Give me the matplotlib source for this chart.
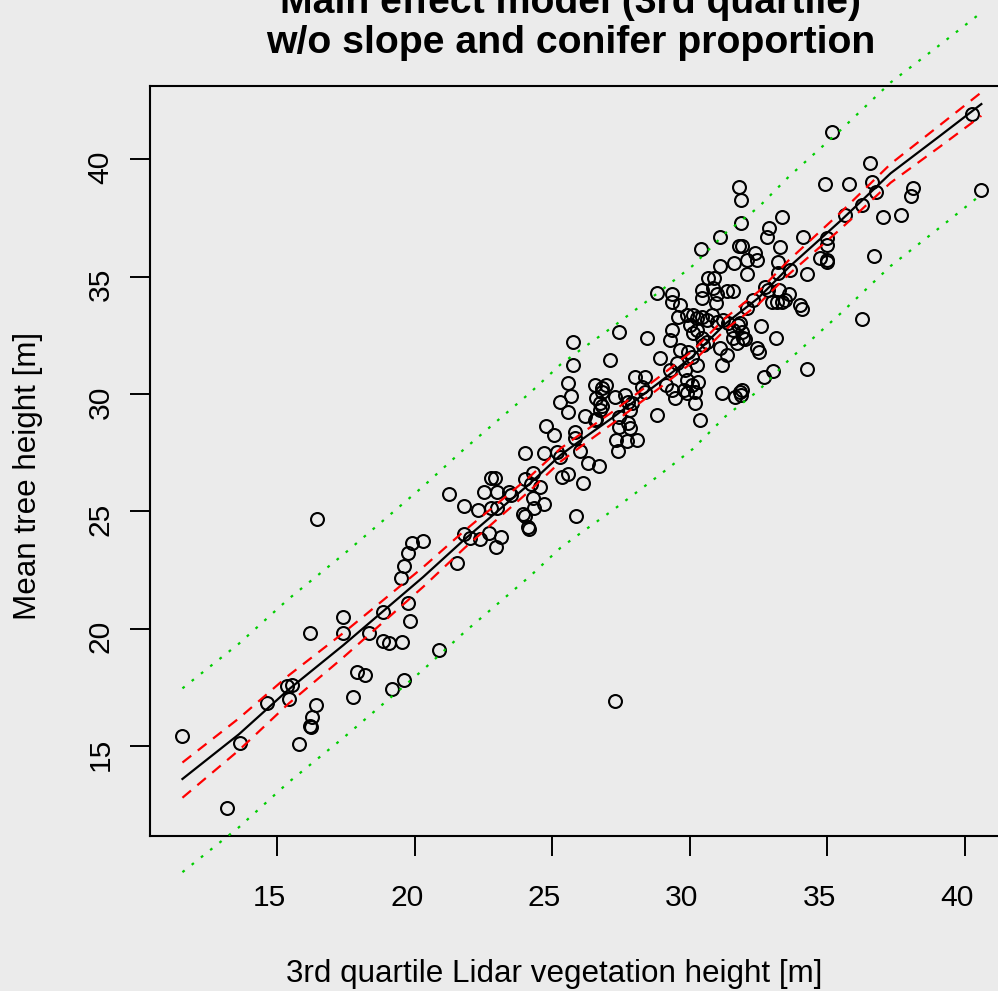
import numpy as np
import matplotlib
matplotlib.use("Agg")
import matplotlib.pyplot as plt
import matplotlib.transforms as mtransforms

plt.rcParams['font.family'] = ['Liberation Sans', 'DejaVu Sans']
plt.rcParams['lines.scale_dashes'] = False

# observed plots: lidar 3rd quartile height vs mean tree height
lidar_q3 = [
    11.55, 13.18, 13.64, 14.61, 15.36, 15.55, 15.44, 16.40, 16.25, 16.19, 16.23, 15.80,
    16.18, 17.38, 17.38, 18.34, 18.85, 19.76, 19.84, 18.85, 19.07, 19.55, 17.89, 18.19,
    17.74, 19.16, 19.61, 20.88, 16.44, 27.28,
    19.49, 19.62, 19.76, 19.91, 20.29, 21.55, 21.77, 22.00, 22.37, 22.70, 23.12, 22.95,
    21.26, 21.79, 22.29, 22.53, 22.77, 22.92, 22.98, 22.77, 22.98, 23.44, 23.50, 24.01,
    24.68, 24.78, 25.07, 25.16, 25.28, 24.01, 24.31, 24.22, 24.55, 24.71, 24.31, 24.34,
    23.92, 24.01, 24.13, 24.16, 25.34, 25.58, 26.10, 25.87, 25.58, 25.67, 25.28, 25.58,
    25.83, 25.83, 26.01, 26.31, 26.71, 26.19, 26.59, 26.55, 26.80, 26.95, 26.59, 26.74,
    26.80, 27.28, 27.64, 27.76, 27.44, 27.76, 27.31, 27.71, 27.38,
    25.74, 27.44, 28.43, 28.80, 29.34, 29.34, 29.65, 29.58, 30.41, 31.10, 31.79, 31.10,
    31.61, 30.65, 30.89, 30.86, 30.43, 30.43, 31.34, 31.58, 30.98, 30.95,
    27.10, 25.74, 26.80, 26.74, 26.55, 27.89, 27.82, 28.01, 28.38, 28.26, 28.38, 27.44,
    27.82, 28.07, 28.80, 29.14, 29.46, 29.34, 28.92, 29.28, 29.65, 29.95, 30.08, 29.52,
    29.83, 29.89, 29.77, 30.08, 29.89, 30.19, 30.19, 30.31, 30.27, 30.37, 29.34, 29.28,
    29.89, 30.13, 30.25, 30.43, 30.61, 30.80, 30.98, 31.22, 31.40, 31.58, 31.76, 31.89,
    31.10, 31.34, 31.16, 31.58, 31.95, 31.71, 32.43, 31.83, 31.65, 31.18, 30.13, 30.25,
    30.43, 30.49, 30.61, 30.00,
    35.16, 40.27, 40.58, 36.55, 34.92, 35.80, 36.64, 36.77, 38.10, 38.04, 36.25, 35.64,
    37.02, 37.68, 33.34, 32.89, 32.81, 34.11, 34.98, 34.98, 34.98, 34.98, 34.74, 33.28,
    32.37, 32.46, 32.07, 33.19, 33.19, 33.64, 34.25, 32.07, 31.80, 31.85, 31.85, 31.88,
    32.74, 32.86, 33.26, 33.59, 32.31, 32.07, 32.98, 33.16, 33.34, 33.46, 34.00, 34.07,
    31.83, 32.59, 33.13, 32.01, 32.53, 36.70, 36.25, 34.25, 33.04, 32.68, 31.88, 31.86,
]
tree_height = [
    15.43, 12.37, 15.14, 16.82, 17.56, 17.60, 17.00, 16.74, 16.22, 15.87, 15.83, 15.09,
    19.80, 20.49, 19.80, 19.80, 20.70, 21.11, 20.32, 19.46, 19.39, 19.45, 18.14, 18.04,
    17.08, 17.43, 17.80, 19.11, 24.67, 16.92,
    22.15, 22.68, 23.21, 23.64, 23.72, 22.79, 24.03, 23.86, 23.81, 24.09, 23.92, 23.47,
    25.74, 25.23, 25.06, 25.81, 26.43, 26.43, 25.81, 25.15, 25.13, 25.81, 25.70, 27.50,
    27.50, 28.64, 28.27, 27.54, 27.30, 26.38, 26.62, 26.15, 26.02, 25.31, 25.56, 25.13,
    24.87, 24.80, 24.35, 24.24, 26.45, 26.58, 26.20, 24.79, 29.25, 29.91, 29.67, 30.48,
    28.39, 28.11, 27.57, 27.05, 26.93, 29.08, 28.92, 30.38, 30.24, 30.38, 29.82, 29.63,
    29.49, 29.89, 29.96, 29.67, 28.61, 28.75, 28.04, 28.00, 27.58,
    32.20, 32.66, 32.40, 34.32, 34.25, 33.93, 33.79, 33.29, 36.17, 36.68, 36.32, 35.45,
    35.57, 34.93, 34.93, 34.50, 34.43, 34.08, 34.40, 34.40, 34.26, 33.86,
    31.45, 31.23, 30.10, 29.32, 28.90, 29.60, 29.32, 30.74, 30.74, 30.31, 30.10, 29.03,
    28.54, 28.04, 29.10, 30.38, 29.82, 30.17, 31.52, 31.02, 31.88, 31.80, 31.59, 31.31,
    31.02, 30.60, 30.17, 30.38, 30.03, 29.60, 30.10, 30.52, 31.23, 28.89, 32.73, 32.30,
    33.36, 33.36, 33.22, 33.29, 33.15, 33.36, 33.08, 33.15, 33.01, 32.73, 32.94, 32.65,
    31.95, 31.66, 31.23, 32.37, 32.37, 32.16, 31.95, 30.10, 29.88, 30.03, 32.59, 32.73,
    32.37, 32.08, 32.23, 32.94,
    41.14, 41.92, 38.69, 39.83, 38.95, 38.95, 39.05, 38.59, 38.79, 38.44, 38.05, 37.63,
    37.55, 37.63, 37.55, 37.06, 36.70, 36.68, 36.63, 36.35, 35.71, 35.64, 35.81, 36.25,
    36.00, 35.71, 35.71, 35.64, 35.14, 35.28, 35.11, 35.10, 38.83, 38.27, 37.27, 36.32,
    34.57, 34.43, 34.43, 34.25, 34.00, 33.65, 33.93, 33.93, 33.93, 34.00, 33.79, 33.61,
    33.01, 32.90, 32.40, 32.33, 31.79, 35.89, 33.18, 31.06, 30.99, 30.74, 30.17, 29.96,
]

# fitted values with confidence and prediction intervals
fit_x = [11.55, 13.6, 15.4, 17.4, 18.8, 20.3, 21.8, 23.0, 24.2, 25.3, 26.0,
         27.2, 28.9, 30.1, 31.3, 32.5, 33.6, 35.5, 37.3, 39.1, 40.6]
fit_y = [13.60, 15.50, 17.40, 19.30, 20.70, 22.20, 23.80, 25.00, 26.20, 27.40, 28.00,
         29.00, 30.50, 31.60, 33.00, 34.10, 35.40, 37.40, 39.40, 41.00, 42.35]
ci_lo = [12.80, 14.82, 16.80, 18.78, 20.23, 21.78, 23.43, 24.67, 25.90, 27.12, 27.73,
         28.75, 30.26, 31.36, 32.75, 33.83, 35.10, 37.05, 39.00, 40.54, 41.85]
ci_hi = [14.30, 16.18, 18.00, 19.82, 21.17, 22.62, 24.17, 25.33, 26.50, 27.68, 28.27,
         29.25, 30.74, 31.84, 33.25, 34.37, 35.70, 37.75, 39.80, 41.46, 42.85]
pi_lo = [9.63, 11.54, 13.45, 15.35, 16.75, 18.25, 19.85, 21.05, 22.25, 23.45, 24.05,
         25.05, 26.55, 27.65, 29.05, 30.15, 31.45, 33.45, 35.45, 37.10, 38.50]
pi_hi = [17.46, 19.36, 21.26, 23.16, 24.56, 26.06, 27.66, 28.86, 30.06, 31.26, 31.86,
         32.86, 34.36, 35.46, 36.86, 37.96, 39.26, 41.26, 43.27, 44.88, 46.25]

x_ticks = [15, 20, 25, 30, 35, 40]
y_ticks = [15, 20, 25, 30, 35, 40]

bg = '#EBEBEB'
W, H = 998, 991
fig = plt.figure(figsize=(W / 100, H / 100), dpi=100, facecolor=bg)
ax = fig.add_axes([150 / W, (H - 836) / H, 866 / W, 750 / H], facecolor=bg)

ax.plot(lidar_q3, tree_height, 'o', mfc='none', mec='black', ms=9.3, mew=1.5, zorder=3)
ax.plot(fit_x, fit_y, color='black', lw=1.6, zorder=4)
for band in (ci_lo, ci_hi):
    ax.plot(fit_x, band, color='#FF0000', lw=1.6, dashes=(8, 6), zorder=4)
for band in (pi_lo, pi_hi):
    ax.plot(fit_x, band, color='#00CD00', lw=1.6, dashes=(2, 6.5), zorder=4,
            clip_on=False)

ax.set_xlim(10.37, 41.86)
ax.set_ylim(11.17, 43.12)
for s in ax.spines.values():
    s.set_linewidth(1.5)

ax.set_xticks(x_ticks)
ax.set_yticks(y_ticks)
ax.set_xticklabels([str(v) for v in x_ticks])
ax.set_yticklabels([str(v) for v in y_ticks], rotation=90, va='center')
ax.tick_params(axis='x', length=14.4, width=1.4, labelsize=21.6, pad=20)
ax.tick_params(axis='y', length=14.4, width=1.4, labelsize=21.6, pad=11)

dx = mtransforms.ScaledTranslation(-0.08, 0, fig.dpi_scale_trans)
dy = mtransforms.ScaledTranslation(0, -0.08, fig.dpi_scale_trans)
for t in ax.xaxis.get_major_ticks():
    t.label1.set_transform(t.label1.get_transform() + dx)
for t in ax.yaxis.get_major_ticks():
    t.label1.set_transform(t.label1.get_transform() + dy)

fig.text(553.7 / W, 1 - 982 / H, '3rd quartile Lidar vegetation height [m]',
         ha='center', va='baseline', fontsize=22.6)
fig.text(28.5 / W, 1 - 476 / H, 'Mean tree height [m]', rotation=90,
         ha='center', va='center', fontsize=22.6)
fig.text(571 / W, 1 - 13 / H, 'Main effect model (3rd quartile)',
         ha='center', va='baseline', fontsize=28.3, fontweight='bold')
fig.text(571 / W, 1 - 53 / H, 'w/o slope and conifer proportion',
         ha='center', va='baseline', fontsize=28.3, fontweight='bold')

fig.savefig('out.png', dpi=100, facecolor=bg)
